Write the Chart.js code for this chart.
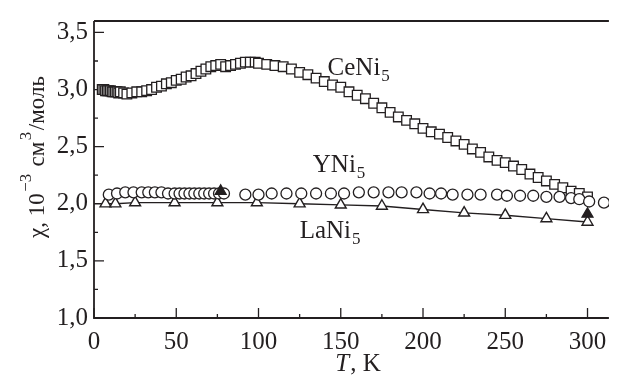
<!DOCTYPE html>
<html><head><meta charset="utf-8">
<script src="https://cdn.jsdelivr.net/npm/chart.js@4/dist/chart.umd.min.js"></script>
<style>html,body{margin:0;padding:0;background:#fff}#wrap{width:617px;height:376px;position:relative}</style>
</head><body><div id="wrap"><canvas id="c" width="617" height="376"></canvas></div>
<script>
// CeNi5 (squares)
const ceT = [5,6,7,8,9,10,11,12,13,14,15,16,18,20,23,26,29,32,35,38,41,44,47,50,53,56,59,62,65,68,71,74,77,80,83,86,89,92,95,98,100,105,110,115,120,125,130,135,140,145,150,155,160,165,170,175,180,185,190,195,200,205,210,215,220,225,230,235,240,245,250,255,260,265,270,275,280,285,290,295,300];
const ceChi = [3.00,3.00,2.99,2.99,2.99,2.99,2.98,2.98,2.98,2.98,2.97,2.98,2.97,2.96,2.97,2.98,2.98,2.99,3.00,3.02,3.03,3.05,3.06,3.08,3.09,3.11,3.12,3.14,3.16,3.18,3.20,3.21,3.22,3.20,3.21,3.22,3.23,3.24,3.24,3.24,3.23,3.22,3.21,3.20,3.18,3.15,3.13,3.10,3.07,3.04,3.02,2.98,2.95,2.92,2.88,2.84,2.80,2.76,2.73,2.70,2.66,2.63,2.61,2.58,2.55,2.52,2.48,2.45,2.41,2.38,2.36,2.33,2.30,2.26,2.23,2.20,2.17,2.14,2.11,2.09,2.06];
// YNi5 (circles)
const yT = [9,14,19,24,29,33,37,41,45,49,52,55,58,61,64,67,70,73,76,79,92,100,108,117,126,135,144,152,161,170,179,187,196,204,211,218,227,235,245,251,259,267,275,283,290,295,301,310];
const yChi = [2.08,2.09,2.10,2.10,2.10,2.10,2.10,2.10,2.09,2.09,2.09,2.09,2.09,2.09,2.09,2.09,2.09,2.09,2.09,2.09,2.08,2.08,2.09,2.09,2.09,2.09,2.09,2.09,2.10,2.10,2.10,2.10,2.10,2.09,2.09,2.08,2.08,2.08,2.08,2.07,2.07,2.07,2.06,2.06,2.05,2.04,2.02,2.01];
// LaNi5 (open triangles with line)
const laT = [7,13,25,49,75,99,125,150,175,200,225,250,275,300];
const laChi = [2.00,2.00,2.01,2.01,2.01,2.01,2.00,1.99,1.98,1.95,1.92,1.90,1.87,1.84];
// filled triangles
const fT = [77,300];
const fChi = [2.11,1.91];
// axis ticks
const xMajor = [0,50,100,150,200,250,300];
const yMajor = [1.0,1.5,2.0,2.5,3.0,3.5];
const labels = [
  {name:'CeNi', sub:'5', t:142, v:3.13},
  {name:'YNi', sub:'5', t:133, v:2.28},
  {name:'LaNi', sub:'5', t:125, v:1.70}
];

const INK = '#231f20';
const FONT = '"Liberation Serif", "Times New Roman", serif';
const pts = (xs, ys) => xs.map((x,i)=>({x:x, y:ys[i]}));
const fmt = v => v.toFixed(1).replace('.', ',');

const framePlugin = {
  id:'frame',
  beforeDatasetsDraw(chart){
    const {ctx, chartArea:a, scales:{x, y}} = chart;
    ctx.save();
    ctx.strokeStyle = INK; ctx.lineWidth = 1.8;
    ctx.beginPath();
    ctx.moveTo(a.left, a.top); ctx.lineTo(a.left, a.bottom); ctx.lineTo(a.right, a.bottom);
    ctx.moveTo(a.left, a.top); ctx.lineTo(a.right, a.top);
    ctx.stroke();
    ctx.lineWidth = 1.3;
    ctx.beginPath();
    for (let v = 0; v <= 300; v += 25) {
      const px = x.getPixelForValue(v);
      const len = xMajor.includes(v) ? 10 : 4;
      ctx.moveTo(px, a.bottom); ctx.lineTo(px, a.bottom - len);
    }
    for (let k = 0; k <= 10; k++) {
      const v = 1 + k*0.25;
      const py = y.getPixelForValue(v);
      const len = (k % 2 === 0) ? 10 : 4;
      ctx.moveTo(a.left, py); ctx.lineTo(a.left + len, py);
    }
    ctx.stroke();
    ctx.restore();
  },
  afterDraw(chart){
    const {ctx, chartArea:a, scales:{x, y}} = chart;
    ctx.save();
    ctx.fillStyle = INK;
    ctx.textBaseline = 'alphabetic';
    labels.forEach(l=>{
      const px = x.getPixelForValue(l.t), py = y.getPixelForValue(l.v);
      ctx.font = '25px ' + FONT;
      ctx.fillText(l.name, px, py);
      const w = ctx.measureText(l.name).width;
      ctx.font = '17px ' + FONT;
      ctx.fillText(l.sub, px + w + 1, py + 6);
    });
    ctx.font = 'italic 25px ' + FONT;
    const tW = ctx.measureText('T').width;
    ctx.font = '25px ' + FONT;
    const rW = ctx.measureText(', K').width;
    const cx = (a.left + 617) / 2 + 2;
    let sx = cx - (tW + rW)/2;
    ctx.font = 'italic 25px ' + FONT;
    ctx.fillText('T', sx, 371);
    ctx.font = '25px ' + FONT;
    ctx.fillText(', K', sx + tW + 1, 371);
    ctx.translate(44, 157);
    ctx.rotate(-Math.PI/2);
    const parts = [
      {t:'\u03c7, 10', sup:false},
      {t:'\u22123', sup:true},
      {t:' \u0441\u043c', sup:false},
      {t:'3', sup:true},
      {t:'/\u043c\u043e\u043b\u044c', sup:false}
    ];
    let tot = 0;
    parts.forEach(p=>{ ctx.font = (p.sup?'17px ':'23px ') + FONT; p.w = ctx.measureText(p.t).width; tot += p.w + (p.sup?3:0); });
    let ox = -tot/2;
    parts.forEach(p=>{
      ctx.font = (p.sup?'17px ':'23px ') + FONT;
      ctx.fillText(p.t, ox + (p.sup?1.5:0), p.sup ? -13 : 0);
      ox += p.w + (p.sup?3:0);
    });
    ctx.restore();
  }
};

const common = {borderColor: INK, borderWidth: 1.3, backgroundColor: '#fff', showLine:false};

function build(){
  new Chart(document.getElementById('c'), {
    type:'scatter',
    data:{datasets:[
      Object.assign({}, common, {label:'CeNi5', data:pts(ceT, ceChi), pointStyle:'rect', pointRadius:6.8, order:4}),
      Object.assign({}, common, {label:'LaNi5', data:pts(laT, laChi), pointStyle:'triangle', pointRadius:6.3, showLine:true, borderWidth:1.4, order:3}),
      Object.assign({}, common, {label:'YNi5', data:pts(yT, yChi), pointStyle:'circle', pointRadius:5.5, order:2}),
      Object.assign({}, common, {label:'filled', data:pts(fT, fChi), pointStyle:'triangle', pointRadius:6.3, backgroundColor:INK, order:1})
    ]},
    options:{
      responsive:false, animation:false,
      layout:{padding:{top:13, right:0, left:0, bottom:0}},
      plugins:{legend:{display:false}, tooltip:{enabled:false}},
      elements:{point:{hoverRadius:0}},
      scales:{
        x:{type:'linear', min:0, max:313,
          grid:{display:false, drawTicks:false}, border:{display:false},
          afterFit(s){ s.height = 58; },
          ticks:{stepSize:25, includeBounds:false, autoSkip:false, maxRotation:0, padding:9, color:INK,
            font:{family:FONT, size:25},
            callback:v => (xMajor.includes(v) ? String(v) : '')}
        },
        y:{type:'linear', min:1.0, max:3.6,
          grid:{display:false, drawTicks:false}, border:{display:false},
          afterFit(s){ s.width = 94; },
          ticks:{stepSize:0.25, includeBounds:false, autoSkip:false, padding:6, color:INK,
            font:{family:FONT, size:25},
            callback:v => (yMajor.some(m=>Math.abs(m-v)<1e-6) ? fmt(v) : '')}
        }
      }
    },
    plugins:[framePlugin]
  });
}
Promise.all([
  document.fonts.load('25px "Liberation Serif"'),
  document.fonts.load('italic 25px "Liberation Serif"')
]).then(build, build);
</script></body></html>
